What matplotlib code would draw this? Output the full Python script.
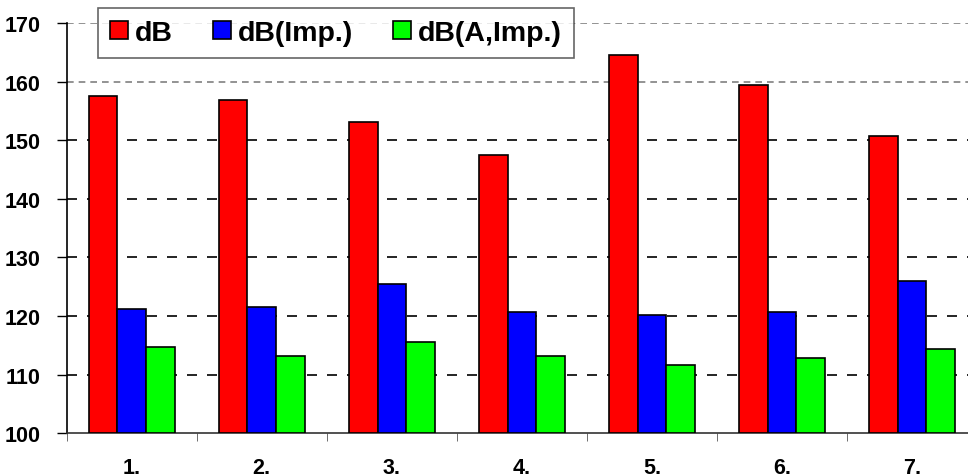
import numpy as np
import matplotlib
matplotlib.use('Agg')
import matplotlib.pyplot as plt

plt.rcParams['font.family'] = ['Liberation Sans', 'DejaVu Sans']
plt.rcParams['font.weight'] = 'bold'

# measurement points and levels
categories = ['1.', '2.', '3.', '4.', '5.', '6.', '7.']
db = [157.6, 156.9, 153.1, 147.5, 164.5, 159.5, 150.7]
db_imp = [121.2, 121.6, 125.4, 120.7, 120.2, 120.7, 125.9]
db_a_imp = [114.7, 113.2, 115.6, 113.2, 111.7, 112.9, 114.4]
series_names = ['dB', 'dB(Imp.)', 'dB(A,Imp.)']
colors = ['#ff0000', '#0000ff', '#00ff00']
y_ticks = [100, 110, 120, 130, 140, 150, 160, 170]

fig = plt.figure(figsize=(9.68, 4.77), dpi=100)
ax = fig.add_axes([0.0689, 0.0895, 0.9404, 0.8602])

x = np.arange(len(categories))
w = 0.22
for i, (vals, name, c) in enumerate(zip([db, db_imp, db_a_imp], series_names, colors)):
    ax.bar(x + (i - 1) * w, np.array(vals) - 100, bottom=100, width=w, color=c,
           edgecolor='black', linewidth=1.2, label=name, zorder=3)

# dashed grid lines
for t in y_ticks[1:]:
    col = '#808080' if t >= 160 else 'black'
    dash = (4, 3) if t >= 160 else (6, 6)
    ax.axhline(t, color=col, linewidth=1.2, dashes=dash, zorder=1)

ax.set_xlim(-0.5, len(categories) - 0.5)
ax.set_ylim(100, 170)
ax.set_yticks(y_ticks)
ax.set_yticklabels([str(t) for t in y_ticks], fontsize=15.5, fontweight='bold')
ax.set_xticks(x)
ax.set_xticklabels(categories, fontsize=15.5, fontweight='bold')
ax.tick_params(axis='x', length=0, pad=17)
ax.set_xticks(np.arange(len(categories) + 1) - 0.5, minor=True)
ax.tick_params(axis='x', which='minor', length=6, direction='out', color='#555555')
ax.tick_params(axis='y', length=7, direction='out', width=1, pad=12)

for s in ['top', 'right']:
    ax.spines[s].set_visible(False)
ax.spines['left'].set_linewidth(1.2)
ax.spines['bottom'].set_linewidth(1.2)
ax.spines['bottom'].set_color('#333333')

leg = ax.legend(loc='upper left', bbox_to_anchor=(98 / 968, 1 - 9 / 477),
                bbox_transform=fig.transFigure, ncol=3, frameon=True, fancybox=False,
                borderaxespad=0, prop={'size': 20.5, 'weight': 'bold'},
                handlelength=0.63, handleheight=0.62, handletextpad=0.25, columnspacing=1.4,
                borderpad=0.42)
leg.get_frame().set_edgecolor('#404040')
leg.get_frame().set_linewidth(1.2)
leg.set_zorder(5)

fig.savefig('out.png', dpi=100)
